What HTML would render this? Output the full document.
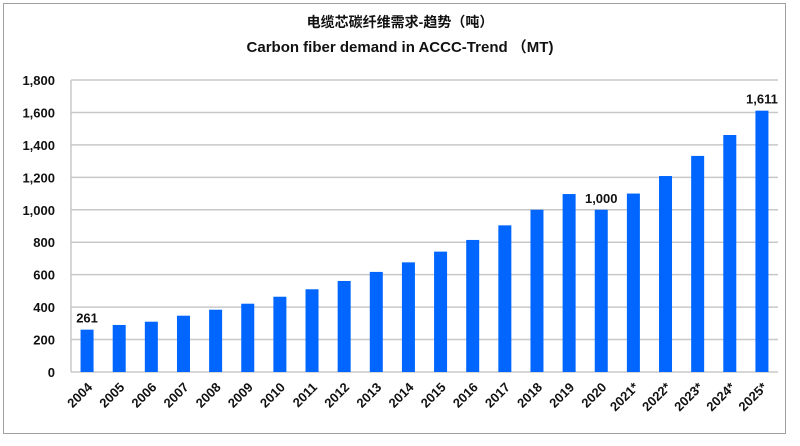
<!DOCTYPE html>
<html><head><meta charset="utf-8"><style>
body{margin:0;background:#fff;width:800px;height:441px;overflow:hidden;font-family:"Liberation Sans","Noto Sans CJK SC",sans-serif}
svg text{font-family:"Liberation Sans","Noto Sans CJK SC",sans-serif;font-weight:bold;fill:#111}
</style></head><body>
<svg id="c" width="800" height="441">
<rect x="3.5" y="3.5" width="782" height="430" fill="#fff" stroke="#a0a0a0"/>
<text x="400" y="27" text-anchor="middle" font-size="14">电缆芯碳纤维需求-趋势（吨）</text>
<text x="400" y="52" text-anchor="middle" font-size="15">Carbon fiber demand in ACCC-Trend （MT)</text>
<g id="grid"></g><g id="bars"></g><g id="labels"></g>
</svg>
<script>
const categories=["2004","2005","2006","2007","2008","2009","2010","2011","2012","2013","2014","2015","2016","2017","2018","2019","2020","2021*","2022*","2023*","2024*","2025*"];
const values=[261,290,310,347,384,421,464,510,561,617,676,742,814,904,1000,1097,1000,1100,1208,1332,1461,1611];
const yTicks=[0,200,400,600,800,1000,1200,1400,1600,1800];
const annotated=[0,16,21];
const NS="http://www.w3.org/2000/svg";
const L=71,R=778,T=80,B=372,yMax=1800;
const y=v=>B-(B-T)*v/yMax;
const slot=(R-L)/categories.length;
const xc=i=>L+slot*(i+0.5);
const fmt=v=>v.toLocaleString("en-US");
function mk(tag,attrs,parent){const e=document.createElementNS(NS,tag);for(const k in attrs)e.setAttribute(k,attrs[k]);parent.appendChild(e);return e;}
const g=document.getElementById("grid"),gb=document.getElementById("bars"),gl=document.getElementById("labels");
yTicks.forEach(t=>{
 const ln=mk("line",{x1:L,x2:R,y1:y(t),y2:y(t),stroke:"#c8c8c8","stroke-width":1.5},g);
 
 
 const tx=mk("text",{x:55,y:y(t)+5,"text-anchor":"end","font-size":13},g);
 tx.textContent=fmt(t);
 
 
});
const ax=mk("line",{x1:L,x2:L,y1:T,y2:B,stroke:"#c8c8c8","stroke-width":1.5},g);


categories.forEach((c,i)=>{
 const v=values[i];
 const r=mk("rect",{x:xc(i)-6.5,y:y(v),width:13,height:B-y(v),fill:"#0066ff"},gb);
 
 
 const tx=mk("text",{x:0,y:0,"text-anchor":"end","font-size":13,transform:`translate(${xc(i)+6},${B+16}) rotate(-45)`},gl);
 tx.textContent=c;
 
 
 if(annotated.includes(i)){
  const a=mk("text",{x:xc(i),y:y(v)-7,"text-anchor":"middle","font-size":13},gl);
  a.textContent=fmt(v);
  
  
 }
});
</script>
</body></html>
